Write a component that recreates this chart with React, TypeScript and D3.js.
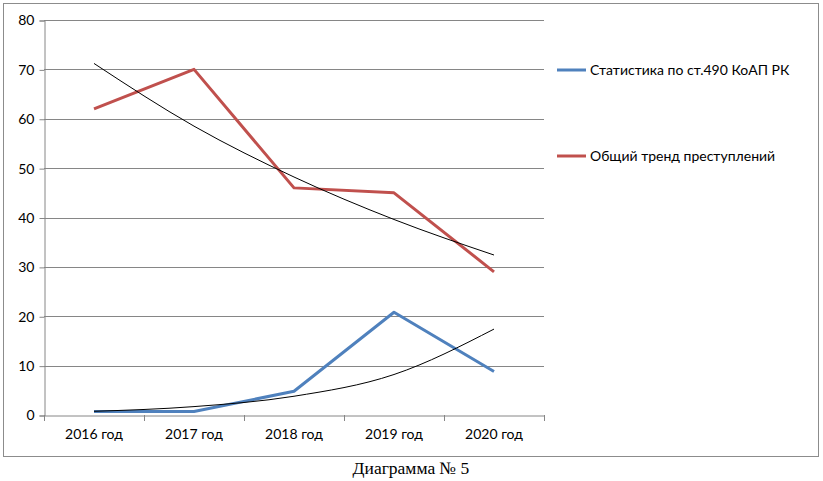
import React, { useEffect, useRef } from 'react';
import * as d3 from 'd3';

const years = ['2016 год', '2017 год', '2018 год', '2019 год', '2020 год'];
const stat490 = [0.7, 0.7, 4.8, 20.8, 8.8];
const crimeTrend = [62, 70, 46, 45, 29];
// exponential trendlines
const stat490Fit = [0.75, 1.7, 3.8, 8.2, 17.4];
const crimeFit = [71.2, 58.5, 48.2, 39.6, 32.4];
const yTicks = [0, 10, 20, 30, 40, 50, 60, 70, 80];
const seriesNames = ['Статистика по ст.490 КоАП РК', 'Общий тренд преступлений'];
const seriesColors = ['#4F81BD', '#C0504D'];

const W = 823;
const H = 481;

const App = () => {
    const ref = useRef<SVGSVGElement>(null);

    useEffect(() => {
        const svg = d3.select(ref.current);
        svg.selectAll('*').remove();

        const left = 44, right = 544, top = 20, bottom = 415;
        const font = 'Lato, "Open Sans", sans-serif';

        // outer frame
        svg.append('rect')
            .attr('x', 3.5).attr('y', 3.5)
            .attr('width', 815).attr('height', 453)
            .attr('fill', '#fff')
            .attr('stroke', '#8c8c8c');

        const x = d3.scaleBand().domain(years).range([left, right]);
        const y = d3.scaleLinear().domain([0, 80]).range([bottom, top]);

        // gridlines
        svg.append('g')
            .selectAll('line')
            .data(yTicks.filter(t => t > 0))
            .join('line')
            .attr('x1', left).attr('x2', right)
            .attr('y1', d => Math.round(y(d)) + 0.5)
            .attr('y2', d => Math.round(y(d)) + 0.5)
            .attr('stroke', '#868686');

        // y axis
        const yAxis = d3.axisLeft(y).tickValues(yTicks).tickSize(5).tickPadding(5);
        const gy = svg.append('g')
            .attr('transform', `translate(${left + 0.5},0.5)`)
            .call(yAxis);
        gy.select('.domain').attr('stroke', '#868686');
        gy.selectAll('.tick line').attr('stroke', '#868686');
        gy.selectAll('.tick text')
            .attr('font-family', font).attr('font-size', 14).attr('fill', '#000');

        // x axis
        const xAxis = d3.axisBottom(x).tickSize(0).tickPadding(14);
        const gx = svg.append('g')
            .attr('transform', `translate(0,${bottom + 0.5})`)
            .call(xAxis);
        gx.select('.domain').attr('stroke', '#868686');
        gx.selectAll('.tick text')
            .attr('font-family', font).attr('font-size', 14).attr('fill', '#000');
        svg.append('g')
            .selectAll('line')
            .data(d3.range(years.length + 1))
            .join('line')
            .attr('x1', i => Math.round(left + i * x.step()) + 0.5)
            .attr('x2', i => Math.round(left + i * x.step()) + 0.5)
            .attr('y1', bottom).attr('y2', bottom + 6)
            .attr('stroke', '#868686');

        const cx = (d: string) => (x(d) as number) + x.bandwidth() / 2;

        const line = d3.line<number>()
            .x((_, i) => cx(years[i]))
            .y(d => y(d));
        const smooth = d3.line<number>()
            .x((_, i) => cx(years[i]))
            .y(d => y(d))
            .curve(d3.curveMonotoneX);

        [stat490, crimeTrend].forEach((s, i) => {
            svg.append('path')
                .datum(s)
                .attr('d', line)
                .attr('fill', 'none')
                .attr('stroke', seriesColors[i])
                .attr('stroke-width', 3)
                .attr('stroke-linejoin', 'round');
        });

        [stat490Fit, crimeFit].forEach(s => {
            svg.append('path')
                .datum(s)
                .attr('d', smooth)
                .attr('fill', 'none')
                .attr('stroke', '#000')
                .attr('stroke-width', 1);
        });

        // legend
        const lg = svg.append('g');
        seriesNames.forEach((name, i) => {
            const ly = 70 + i * 86;
            lg.append('line')
                .attr('x1', 557).attr('x2', 586)
                .attr('y1', ly).attr('y2', ly)
                .attr('stroke', seriesColors[i]).attr('stroke-width', 3);
            lg.append('text')
                .attr('x', 590).attr('y', ly + 5)
                .attr('font-family', font).attr('font-size', 14)
                .text(name);
        });

        // caption
        svg.append('text')
            .attr('x', 411).attr('y', 474)
            .attr('text-anchor', 'middle')
            .attr('font-family', '"Liberation Serif", "Times New Roman", serif')
            .attr('font-size', 17.5)
            .text('Диаграмма № 5');
    }, []);

    return (
        <svg
            ref={ref}
            width={W}
            height={H}
            style={{ position: 'absolute', left: 0, top: 0, background: '#fff' }}
        />
    );
};

export default App;
